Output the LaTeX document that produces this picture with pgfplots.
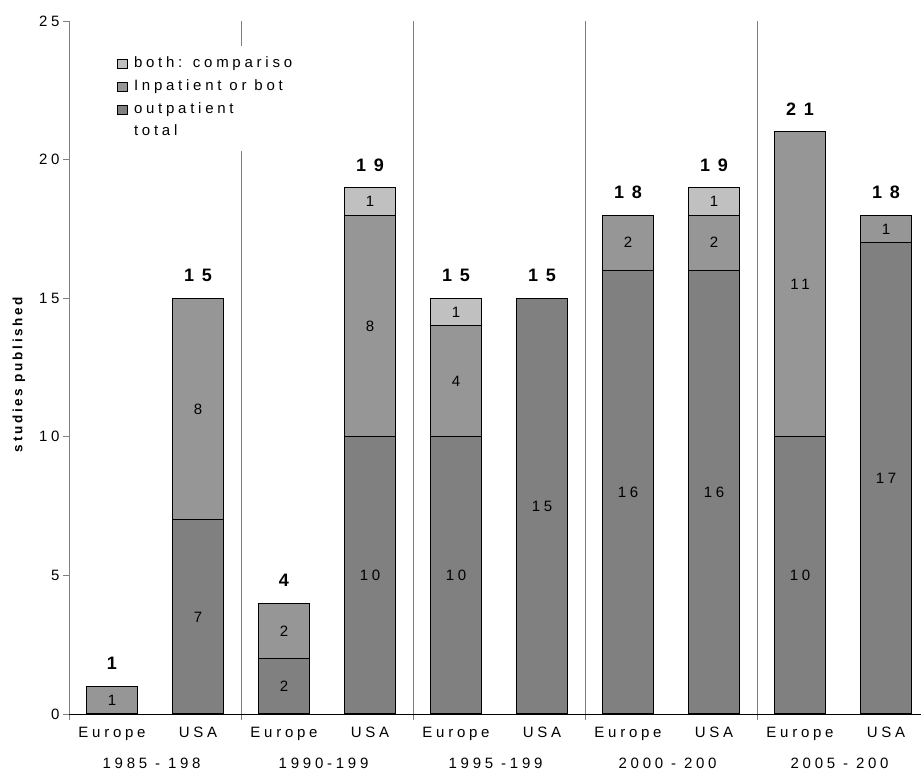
\documentclass[border=0pt]{standalone}
\usepackage{fontspec}
\setmainfont{Liberation Sans}[LetterSpace=25]
\newfontfamily\totfont{Liberation Sans}[LetterSpace=42]
\newfontfamily\ylabfont{Liberation Sans}[LetterSpace=20]
\usepackage{pgfplots}
\usepackage{pgfplotstable}
\pgfplotsset{compat=1.18}
\definecolor{outc}{HTML}{808080}
\definecolor{inpc}{HTML}{969696}
\definecolor{bothc}{HTML}{C0C0C0}
\definecolor{sepc}{HTML}{808080}

\pgfplotstableread{
x out inp both
0 0 1 0
1 7 8 0
2 2 2 0
3 10 8 1
4 10 4 1
5 15 0 0
6 16 2 0
7 16 2 1
8 10 11 0
9 17 1 0
}\bars

\pgfplotstableread{
x y lab
0 0.5 1
1 3.5 7
1 11 8
2 1 2
2 3 2
3 5 10
3 14 8
3 18.5 1
4 5 10
4 12 4
4 14.5 1
5 7.5 15
6 8 16
6 17 2
7 8 16
7 17 2
7 18.5 1
8 5 10
8 15.5 11
9 8.5 17
9 17.5 1
}\segs

\pgfplotstableread{
x y tot
0 1 1
1 15 15
2 4 4
3 19 19
4 15 15
5 15 15
6 18 18
7 19 19
8 21 21
9 18 18
}\tots

\begin{document}
\begin{tikzpicture}[font=\fontsize{15}{18}\selectfont]
\begin{axis}[
  scale only axis, width=852pt, height=693pt,
  xmin=-0.5, xmax=9.407, ymin=0, ymax=25,
  ybar stacked, bar width=51pt,
  axis lines=left,
  x axis line style={black, -, line width=0.8pt},
  y axis line style={sepc, -, line width=0.8pt},
  tick align=outside,
  major tick length=6pt,
  tick style={sepc, line width=0.8pt},
  /pgf/number format/assume math mode=true,
  tick label style={font=\fontsize{15}{18}\selectfont},
  ytick={0,5,10,15,20,25},
  xtick={-0.5,1.5,3.5,5.5,7.5},
  xticklabels={,,,,},
  xmajorgrids,
  major grid style={sepc, line width=0.8pt},
  extra x ticks={0,1,2,3,4,5,6,7,8,9},
  extra x tick labels={Europe,USA,Europe,USA,Europe,USA,Europe,USA,Europe,USA},
  extra x tick style={grid=none, major tick length=0pt,
    tick label style={anchor=base, yshift=-24pt}},
  ylabel={studies published},
  every axis y label/.style={at={(axis description cs:-0.0587,0.49)}, rotate=90, anchor=center,
    font=\ylabfont\bfseries\fontsize{13.5}{16}\selectfont},
  legend cell align=left,
  legend style={at={(axis description cs:0.054,0.9646)}, anchor=north west,
    draw=none, fill=white, inner xsep=2pt, inner ysep=10pt, row sep=5.7pt,
    font=\fontsize{15}{18}\selectfont,
    nodes={inner sep=2pt, text height=10pt, text depth=3pt},
    /tikz/every odd column/.append style={column sep=4pt}},
]
\addplot[fill=outc, draw=black, line width=1pt, forget plot] table[x=x, y=out] {\bars};
\addplot[fill=inpc, draw=black, line width=1pt, forget plot] table[x=x, y=inp] {\bars};
\addplot[fill=bothc, draw=black, line width=1pt, forget plot] table[x=x, y=both] {\bars};
\addlegendimage{legend image code/.code={\draw[fill=bothc, draw=black, line width=0.8pt] (0pt,-4.5pt) rectangle (10pt,4.5pt);}}
\addlegendentry{both: compariso}
\addlegendimage{legend image code/.code={\draw[fill=inpc, draw=black, line width=0.8pt] (0pt,-4.5pt) rectangle (10pt,4.5pt);}}
\addlegendentry{Inpatient or bot}
\addlegendimage{legend image code/.code={\draw[fill=outc, draw=black, line width=0.8pt] (0pt,-4.5pt) rectangle (10pt,4.5pt);}}
\addlegendentry{outpatient}
\addlegendimage{empty legend}
\addlegendentry{total}
\end{axis}
\begin{axis}[
  scale only axis, width=852pt, height=693pt,
  xmin=-0.5, xmax=9.407, ymin=0, ymax=25,
  clip=false,
  axis line style={draw=none},
  tick style={draw=none},
  major tick length=0pt,
  ytick=\empty,
  xtick={0.46,2.46,4.46,6.46,8.46},
  xticklabels={1985 - 198, 1990-199, 1995 -199, 2000 - 200, 2005 - 200},
  xticklabel style={anchor=base, yshift=-55pt, font=\fontsize{15}{18}\selectfont},
]
\addplot[only marks, mark=*, mark size=0pt, mark options={draw=none, fill=none},
  nodes near coords, point meta=explicit symbolic,
  nodes near coords style={anchor=center, font=\fontsize{15}{18}\selectfont, text=black}]
  table[x=x, y=y, meta=lab] {\segs};
\addplot[only marks, mark=*, mark size=0pt, mark options={draw=none, fill=none},
  nodes near coords, point meta=explicit symbolic,
  nodes near coords style={anchor=center, yshift=22.5pt, font=\totfont\bfseries\fontsize{18}{21}\selectfont}]
  table[x=x, y=y, meta=tot] {\tots};
\end{axis}
\pgfresetboundingbox
\path[use as bounding box] (-69pt,-59pt) rectangle (852pt,714pt);
\end{tikzpicture}
\end{document}
